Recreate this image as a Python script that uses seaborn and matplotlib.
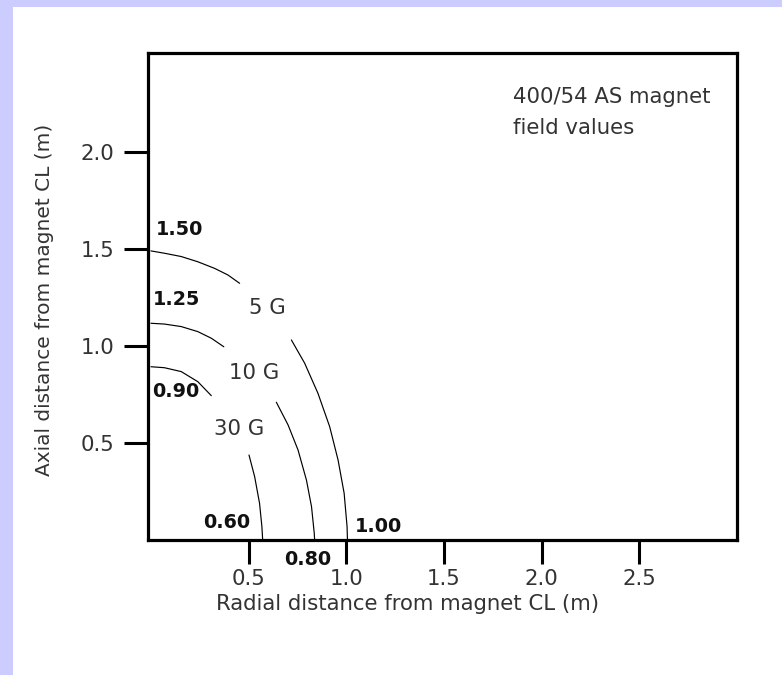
import numpy as np
import pandas as pd
import matplotlib
matplotlib.use("Agg")
import matplotlib.pyplot as plt
from matplotlib.patches import Rectangle
import seaborn as sns

# ---- data ----
# 5 G contour (two segments, broken around its label)
g5_upper_x = [0.0, 0.069, 0.155, 0.240, 0.326, 0.394, 0.454]
g5_upper_y = [1.49, 1.478, 1.461, 1.434, 1.400, 1.366, 1.323]
g5_lower_x = [0.719, 0.787, 0.855, 0.915, 0.958, 0.989, 1.004, 1.006]
g5_lower_y = [1.031, 0.911, 0.756, 0.584, 0.412, 0.241, 0.069, 0.0]
# 10 G contour
g10_upper_x = [0.0, 0.069, 0.155, 0.240, 0.309, 0.373]
g10_upper_y = [1.117, 1.113, 1.100, 1.074, 1.040, 0.996]
g10_lower_x = [0.642, 0.702, 0.753, 0.796, 0.822, 0.836, 0.838]
g10_lower_y = [0.710, 0.593, 0.464, 0.309, 0.172, 0.035, 0.0]
# 30 G contour
g30_upper_x = [0.0, 0.069, 0.155, 0.240, 0.309]
g30_upper_y = [0.893, 0.888, 0.868, 0.816, 0.744]
g30_lower_x = [0.502, 0.531, 0.556, 0.568, 0.572]
g30_lower_y = [0.438, 0.326, 0.189, 0.069, 0.0]

contour_names = ["5 G", "10 G", "30 G"]
contour_label_x = [0.597, 0.526, 0.454]
contour_label_y = [1.196, 0.861, 0.572]

intercept_labels = ["1.50", "1.25", "0.90", "0.60", "1.00", "0.80"]
intercept_x = [0.146, 0.129, 0.129, 0.386, 1.167, 0.80]
intercept_y = [1.598, 1.242, 0.764, 0.089, 0.069, -0.099]

x_ticks = [0.5, 1.0, 1.5, 2.0, 2.5]
y_ticks = [0.5, 1.0, 1.5, 2.0]
x_tick_labels = ["0.5", "1.0", "1.5", "2.0", "2.5"]
y_tick_labels = ["0.5", "1.0", "1.5", "2.0"]

title_lines = ["400/54 AS magnet", "field values"]
x_label = "Radial distance from magnet CL (m)"
y_label = "Axial distance from magnet CL (m)"

# ---- build long table ----
segs = [
    ("5G_a", g5_upper_x, g5_upper_y), ("5G_b", g5_lower_x, g5_lower_y),
    ("10G_a", g10_upper_x, g10_upper_y), ("10G_b", g10_lower_x, g10_lower_y),
    ("30G_a", g30_upper_x, g30_upper_y), ("30G_b", g30_lower_x, g30_lower_y),
]
rows = []
for name, xs, ys in segs:
    for i, (xv, yv) in enumerate(zip(xs, ys)):
        rows.append({"seg": name, "order": i, "x": xv, "y": yv})
df = pd.DataFrame(rows)

sns.set_theme(style="white")
plt.rcParams["font.family"] = ["DejaVu Sans"]

TXT = "#333333"
FS = 15.3

fig = plt.figure(figsize=(7.82, 6.75), dpi=100)
fig.patch.set_facecolor("white")
# lavender page border strips
fig.patches.append(Rectangle((0, 0), 12.5 / 782, 1, transform=fig.transFigure,
                             facecolor="#CCCCFF", edgecolor="none", zorder=0))
fig.patches.append(Rectangle((0, 1 - 7 / 675), 1, 7 / 675, transform=fig.transFigure,
                             facecolor="#CCCCFF", edgecolor="none", zorder=0))

ax = fig.add_axes([148 / 782, 1 - 540 / 675, (737 - 148) / 782, (540 - 53) / 675])

sns.lineplot(data=df, x="x", y="y", units="seg", estimator=None, sort=False,
             color="black", linewidth=0.85, ax=ax, legend=False)

ax.set_xlim(-0.015, 3.0)
ax.set_ylim(0, 2.51)
ax.set_xticks(x_ticks)
ax.set_xticklabels(x_tick_labels)
ax.set_yticks(y_ticks)
ax.set_yticklabels(y_tick_labels)
ax.tick_params(axis="both", direction="out", length=17, width=2.2, color="black",
               labelsize=FS, labelcolor=TXT, bottom=True, left=True)
ax.tick_params(axis="x", pad=4)
ax.tick_params(axis="y", pad=7.5)
for s in ax.spines.values():
    s.set_linewidth(2.3)
    s.set_color("black")
    s.set_visible(True)

ax.set_xlabel(x_label, fontsize=FS, color=TXT, va="center")
ax.set_ylabel(y_label, fontsize=14.5, color=TXT, va="center")
ax.xaxis.set_label_coords(0.44, -0.131)
ax.yaxis.set_label_coords(-0.175, 0.493)

for name, xv, yv in zip(contour_names, contour_label_x, contour_label_y):
    ax.text(xv, yv, name, fontsize=FS, color=TXT, ha="center", va="center")

for lab, xv, yv in zip(intercept_labels, intercept_x, intercept_y):
    ax.text(xv, yv, lab, fontsize=13.8, fontweight="bold", color="#111111",
            ha="center", va="center", clip_on=False)

ax.text(1.854, 2.285, title_lines[0], fontsize=FS, color=TXT, ha="left", va="center")
ax.text(1.854, 2.124, title_lines[1], fontsize=FS, color=TXT, ha="left", va="center")

fig.savefig("out.png", dpi=100, facecolor="white")
